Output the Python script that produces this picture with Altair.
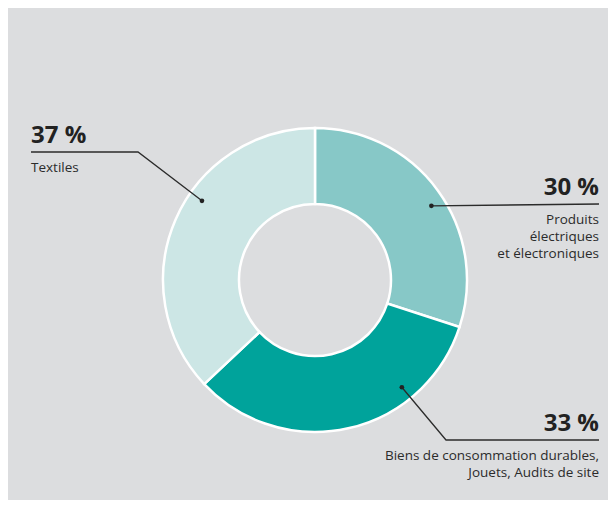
import math
import altair as alt
import pandas as pd

# ---- data ----
categories = [
    "Produits électriques et électroniques",
    "Biens de consommation durables, Jouets, Audits de site",
    "Textiles",
]
shares = [30, 33, 37]
pct_labels = ["30 %", "33 %", "37 %"]
desc_labels = [
    "Produits\nélectriques \net électroniques",
    "Biens de consommation durables,\nJouets, Audits de site",
    "Textiles",
]
colors = ["#87c8c7", "#00a39b", "#cce6e5"]

# ---- layout (pixels in chart space) ----
W, H = 600, 492
CX, CY = 307, 272
R_IN, R_OUT = 76, 152
ANCHOR_R = 138
anchor_deg = [57.5, 141, 305]          # where each leader dot sits
label_align = ["right", "right", "left"]
label_x = [591, 591, 23]               # end of horizontal leader / text anchor
label_line_y = [196, 432, 144]
elbow_x = [None, 438, 130]
BG = "#dcdddf"
INK = "#2b2b2b"

arc_df = pd.DataFrame({"category": categories, "share": shares, "idx": range(len(shares))})

pts = []
lines = []
pct_rows = []
desc_rows = []
for i, c in enumerate(categories):
    a = math.radians(anchor_deg[i])
    dx = CX + ANCHOR_R * math.sin(a)
    dy = CY - ANCHOR_R * math.cos(a)
    pts.append({"category": c, "px": dx, "py": dy})
    seq = [(dx, dy)]
    if elbow_x[i] is not None:
        seq.append((elbow_x[i], label_line_y[i]))
    seq.append((label_x[i], label_line_y[i]))
    for k, (x, y) in enumerate(seq):
        lines.append({"category": c, "ord": k, "px": x, "py": y})
    pct_rows.append({"category": c, "px": label_x[i], "py": label_line_y[i] - 9,
                     "text": pct_labels[i], "align": label_align[i]})
    desc_rows.append({"category": c, "px": label_x[i], "py": label_line_y[i] + 20,
                      "text": desc_labels[i], "align": label_align[i]})

pts_df = pd.DataFrame(pts)
lines_df = pd.DataFrame(lines)
pct_df = pd.DataFrame(pct_rows)
desc_df = pd.DataFrame(desc_rows)

xs = alt.Scale(domain=[0, W], nice=False, zero=False)
ys = alt.Scale(domain=[0, H], nice=False, zero=False, reverse=True)
X = lambda: alt.X("px:Q", scale=xs, axis=None)
Y = lambda: alt.Y("py:Q", scale=ys, axis=None)

arcs = alt.Chart(arc_df).mark_arc(
    innerRadius=R_IN, outerRadius=R_OUT, stroke="white", strokeWidth=2.5
).encode(
    theta=alt.Theta("share:Q", stack=True),
    color=alt.Color("category:N", scale=alt.Scale(domain=categories, range=colors), legend=None),
    order=alt.Order("idx:Q"),
    x=alt.value(CX),
    y=alt.value(CY),
)

leader = alt.Chart(lines_df).mark_line(color=INK, strokeWidth=1.3).encode(
    x=X(), y=Y(), detail="category:N", order="ord:Q"
)

dots = alt.Chart(pts_df).mark_circle(color="#222222", opacity=1, size=22).encode(x=X(), y=Y())

layers = [arcs, leader, dots]
for al in ["left", "right"]:
    layers.append(
        alt.Chart(pct_df).transform_filter(alt.datum.align == al).mark_text(
            align=al, baseline="alphabetic", font="Open Sans", fontWeight="bold",
            fontSize=24, color="#222222"
        ).encode(x=X(), y=Y(), text="text:N")
    )
    layers.append(
        alt.Chart(desc_df).transform_filter(alt.datum.align == al).mark_text(
            align=al, baseline="alphabetic", font="Open Sans", fontSize=13.5,
            color=INK, lineBreak="\n", lineHeight=17
        ).encode(x=X(), y=Y(), text="text:N")
    )

chart = alt.layer(*layers).properties(
    width=W, height=H, padding=0, background=BG,
    autosize=alt.AutoSizeParams(type="fit", contains="padding"),
).configure_view(stroke=None)

chart.save("out.html", embed_options={"renderer": "svg", "actions": False})
